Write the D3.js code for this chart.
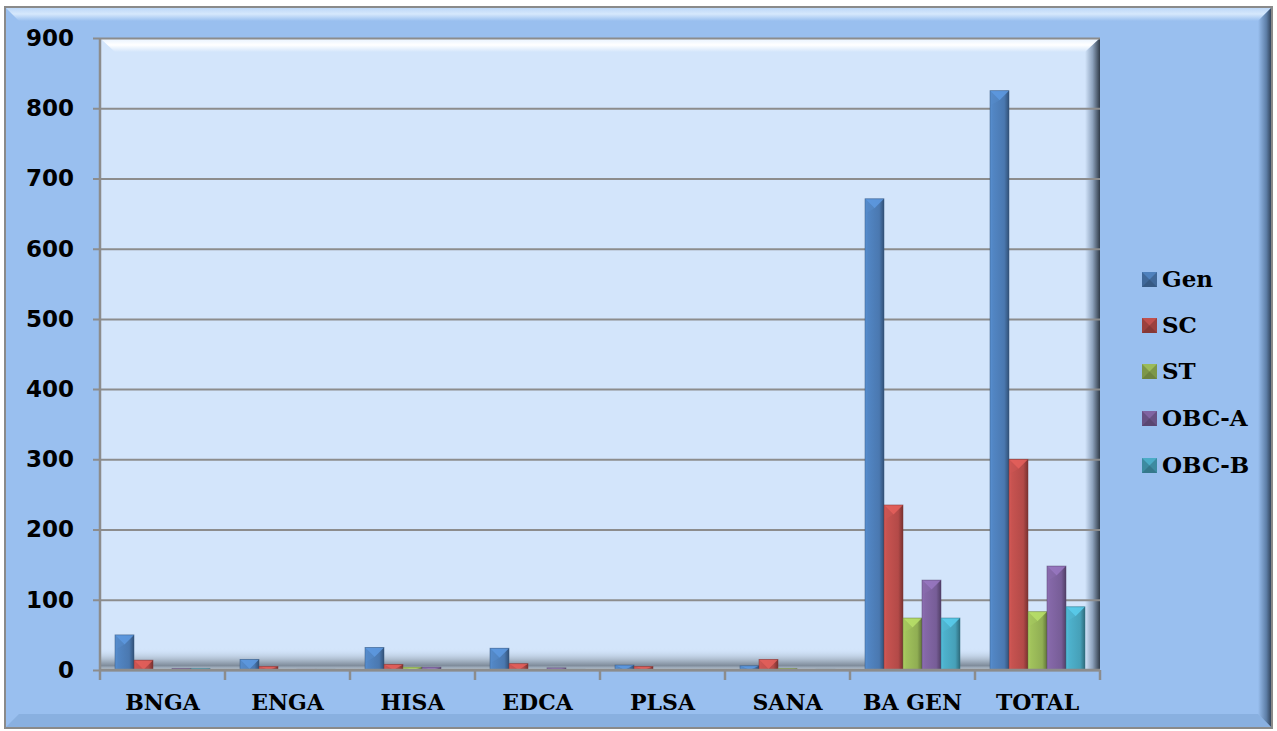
<!DOCTYPE html>
<html><head><meta charset="utf-8">
<script src="https://cdn.jsdelivr.net/npm/d3@7/dist/d3.min.js"></script>
<style>body{margin:0;background:#fff;}svg{display:block;}</style>
</head><body>
<script>
const categories = ["BNGA","ENGA","HISA","EDCA","PLSA","SANA","BA GEN","TOTAL"];
const seriesNames = ["Gen","SC","ST","OBC-A","OBC-B"];
const gen  = [50,15,32,31,7,6,671,825];
const sc   = [14,5,8,9,5,15,235,300];
const st   = [0,0,4,0,0,2,74,83];
const obcA = [2,1,4,3,0,0,128,148];
const obcB = [2,1,0,1,0,1,74,90];
const yTicks = [0,100,200,300,400,500,600,700,800,900];
const colors = ["#4F81BD","#C0504D","#9BBB59","#8064A2","#4BACC6"];
const seriesValues = [gen, sc, st, obcA, obcB];

const W = 1277, H = 731;
const svg = d3.select("body").append("svg").attr("width", W).attr("height", H);
const defs = svg.append("defs");

const topHi = defs.append("linearGradient").attr("id","topHi").attr("x1",0).attr("y1",0).attr("x2",0).attr("y2",1);
topHi.append("stop").attr("offset","0%").attr("stop-color","#b9d5f7");
topHi.append("stop").attr("offset","50%").attr("stop-color","#d6e8fc");
topHi.append("stop").attr("offset","100%").attr("stop-color","#99bfef");
const rightDk = defs.append("linearGradient").attr("id","rightDk").attr("x1",0).attr("y1",0).attr("x2",1).attr("y2",0);
rightDk.append("stop").attr("offset","0%").attr("stop-color","#99bfef");
rightDk.append("stop").attr("offset","60%").attr("stop-color","#5d7ea6");
rightDk.append("stop").attr("offset","100%").attr("stop-color","#2b3a4e");

const wallTop = defs.append("linearGradient").attr("id","wallTop").attr("x1",0).attr("y1",0).attr("x2",0).attr("y2",1);
wallTop.append("stop").attr("offset","0%").attr("stop-color","#e6f1fe");
wallTop.append("stop").attr("offset","50%").attr("stop-color","#ffffff");
wallTop.append("stop").attr("offset","100%").attr("stop-color","#d3e5fb");
const wallRight = defs.append("linearGradient").attr("id","wallRight").attr("x1",0).attr("y1",0).attr("x2",1).attr("y2",0);
wallRight.append("stop").attr("offset","0%").attr("stop-color","#d3e5fb");
wallRight.append("stop").attr("offset","50%").attr("stop-color","#8ea3bd");
wallRight.append("stop").attr("offset","100%").attr("stop-color","#303b48");
const floorG = defs.append("linearGradient").attr("id","floorG").attr("x1",0).attr("y1",0).attr("x2",0).attr("y2",1);
floorG.append("stop").attr("offset","0%").attr("stop-color","#d3e5fb").attr("stop-opacity",0);
floorG.append("stop").attr("offset","55%").attr("stop-color","#a9b8c9");
floorG.append("stop").attr("offset","80%").attr("stop-color","#7f8c9b");
floorG.append("stop").attr("offset","100%").attr("stop-color","#c5d3e2");

colors.forEach((c,i)=>{
  const g = defs.append("linearGradient").attr("id","bar"+i).attr("x1",0).attr("y1",0).attr("x2",1).attr("y2",0);
  const base = d3.color(c);
  g.append("stop").attr("offset","0%").attr("stop-color", base.brighter(0.3));
  g.append("stop").attr("offset","15%").attr("stop-color", base.brighter(0.1));
  g.append("stop").attr("offset","75%").attr("stop-color", base.darker(0.2));
  g.append("stop").attr("offset","100%").attr("stop-color", base.darker(1.3));
});

const ox0 = 5, oy0 = 7, ox1 = 1272, oy1 = 728;
svg.append("rect").attr("x",ox0).attr("y",oy0).attr("width",ox1-ox0).attr("height",oy1-oy0).attr("fill","#99bfef");
svg.append("polygon").attr("points",`${ox0},${oy0} ${ox1},${oy0} ${ox1-14},${oy0+14} ${ox0+14},${oy0+14}`).attr("fill","url(#topHi)");
svg.append("polygon").attr("points",`${ox1},${oy0} ${ox1},${oy1} ${ox1-14},${oy1-14} ${ox1-14},${oy0+14}`).attr("fill","url(#rightDk)");
svg.append("polygon").attr("points",`${ox0},${oy1} ${ox1},${oy1} ${ox1-14},${oy1-14} ${ox0+14},${oy1-14}`).attr("fill","#7fa6d6").attr("opacity",0.6);
svg.append("rect").attr("x",ox0).attr("y",oy0).attr("width",ox1-ox0).attr("height",oy1-oy0).attr("fill","none").attr("stroke","#8a8a8a").attr("stroke-width",2);

const px0 = 100, px1 = 1100, py0 = 38, py1 = 670;
const x = d3.scaleBand().domain(categories).range([px0, px1]).paddingInner(0).paddingOuter(0);
const y = d3.scaleLinear().domain([0, 900]).range([py1, py0]);
const bw = x.bandwidth();
const x1 = d3.scaleBand().domain(seriesNames).range([bw*0.12, bw*0.88]).padding(0);

svg.append("rect").attr("x",px0).attr("y",py0).attr("width",px1-px0).attr("height",py1-py0).attr("fill","#d3e5fb");
svg.append("polygon").attr("points",`${px0},${py0} ${px1},${py0} ${px1-15},${py0+14} ${px0+15},${py0+14}`).attr("fill","url(#wallTop)");
svg.append("polygon").attr("points",`${px1},${py0} ${px1},${py1} ${px1-15},${py1} ${px1-15},${py0+14}`).attr("fill","url(#wallRight)");
svg.append("rect").attr("x",px0).attr("y",py1-22).attr("width",px1-px0-15).attr("height",22).attr("fill","url(#floorG)");

const yAxis = d3.axisLeft(y).tickValues(yTicks).tickSize(-(px1-px0)).tickPadding(22).tickFormat(d3.format("d"));
const gy = svg.append("g").attr("transform",`translate(${px0},0)`).call(yAxis);
gy.select(".domain").remove();
gy.selectAll(".tick line").attr("stroke","#8c8c8c").attr("stroke-width",2).attr("x1",-7);
gy.selectAll(".tick text").attr("font-family","'DejaVu Sans', Verdana, sans-serif").attr("font-weight","bold").attr("font-size",23).attr("fill","#000").attr("dx",-4);
svg.append("line").attr("x1",px0).attr("x2",px0).attr("y1",py0).attr("y2",py1).attr("stroke","#8c8c8c").attr("stroke-width",2.5);

categories.forEach((cat, ci) => {
  const g = svg.append("g").attr("transform",`translate(${x(cat)},0)`);
  seriesNames.forEach((s, si) => {
    const v = seriesValues[si][ci];
    if (v <= 0) return;
    const bx = x1(s), w = x1.bandwidth();
    const top = y(v), h = py1 - top;
    g.append("rect").attr("x",bx).attr("y",top).attr("width",w).attr("height",h).attr("fill",`url(#bar${si})`);
    const b = Math.min(w/2, h);
    const base = d3.color(colors[si]);
    g.append("polygon").attr("points",`${bx},${top} ${bx+w},${top} ${bx+w/2},${top+b}`).attr("fill", base.brighter(0.5)).attr("opacity",0.85);
    g.append("polygon").attr("points",`${bx},${top} ${bx+w/2},${top+b} ${bx},${Math.min(top+b*1.6, top+h)}`).attr("fill", base.brighter(0.2)).attr("opacity",0.5);
    g.append("rect").attr("x",bx).attr("y",top).attr("width",w).attr("height",h).attr("fill","none").attr("stroke",base.darker(1.2)).attr("stroke-width",0.8).attr("opacity",0.6);
  });
});

svg.append("line").attr("x1",px0).attr("x2",px1).attr("y1",py1).attr("y2",py1).attr("stroke","#8c8c8c").attr("stroke-width",2.5);
const bounds = categories.map(c => x(c)).concat([px1]);
svg.selectAll(".xb").data(bounds).enter().append("line")
  .attr("x1",d=>d).attr("x2",d=>d).attr("y1",py1).attr("y2",py1+10).attr("stroke","#8c8c8c").attr("stroke-width",2.5);
const xAxis = d3.axisBottom(x).tickSize(0).tickPadding(24);
const gx = svg.append("g").attr("transform",`translate(0,${py1})`).call(xAxis);
gx.select(".domain").remove();
gx.selectAll(".tick text").attr("font-family","'DejaVu Serif', 'Bookman Old Style', serif").attr("font-weight","bold").attr("font-size",22).attr("fill","#000");

const legY = [279, 325, 371, 418, 465];
const leg = svg.append("g");
seriesNames.forEach((s, i) => {
  const gg = leg.append("g").attr("transform",`translate(1142,${legY[i]})`);
  const base = d3.color(colors[i]);
  gg.append("rect").attr("x",0).attr("y",-7).attr("width",15).attr("height",15).attr("fill",base.darker(0.6));
  gg.append("polygon").attr("points","0,-7 15,-7 7.5,0.5").attr("fill",base);
  gg.append("polygon").attr("points","0,8 15,8 7.5,0.5").attr("fill",base.darker(1));
  gg.append("text").attr("x",20).attr("y",0).attr("dy","0.35em").text(s)
    .attr("font-family","'DejaVu Serif', 'Bookman Old Style', serif").attr("font-weight","bold").attr("font-size",23).attr("fill","#000");
});
</script>
</body></html>
